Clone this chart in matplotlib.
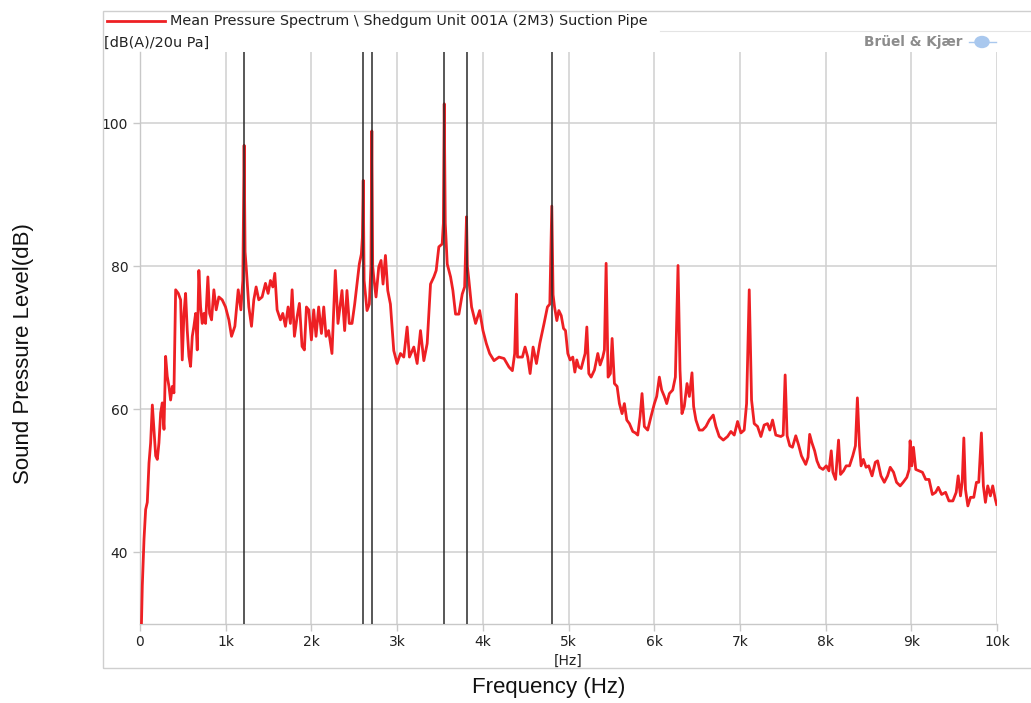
import matplotlib.pyplot as plt
import numpy as np
from matplotlib.lines import Line2D
from matplotlib.patches import Rectangle, Ellipse

# --- Spectrum read from the analyser export (Hz, dB(A) re 20 uPa) ---
freq_hz = [
    15, 27, 47, 66, 85, 105, 124, 144, 163, 183, 202, 221, 241, 260, 280, 299,
    318, 338, 357, 377, 396, 416, 447, 474, 493, 513, 532, 551, 571, 590, 610,
    629, 649, 668, 687, 707, 726, 746, 765, 792, 812, 835, 862, 889, 920, 959,
    998, 1037, 1068, 1107, 1146, 1177, 1200, 1215, 1226, 1239, 1270, 1301, 1328,
    1355, 1386, 1425, 1464, 1495, 1522, 1550, 1573, 1600, 1639, 1666, 1697, 1728,
    1755, 1775, 1802, 1833, 1860, 1891, 1918, 1942, 1969, 2000, 2027, 2054, 2085,
    2117, 2144, 2171,
    2201, 2240, 2279, 2310, 2357, 2388, 2415, 2442, 2474, 2505, 2532, 2559, 2583,
    2595, 2605, 2615, 2649, 2676, 2695, 2705, 2715, 2727, 2754, 2786, 2813, 2836,
    2864, 2891, 2922, 2961, 3000, 3039, 3078, 3117, 3144, 3195, 3234, 3273, 3312,
    3351, 3390, 3429, 3456, 3487, 3526, 3540, 3550, 3562, 3585, 3624, 3651, 3682,
    3721, 3760, 3788, 3810, 3820, 3838, 3869, 3916, 3963, 4002, 4041, 4080, 4131,
    4189, 4248, 4306, 4345, 4372, 4392, 4405, 4462, 4493, 4524, 4552, 4587, 4626,
    4665, 4715, 4754, 4782, 4805, 4820,
    4837, 4864, 4887, 4915, 4942, 4965, 4992, 5019, 5050, 5074, 5097, 5120, 5148,
    5175, 5194, 5214, 5237, 5264, 5303, 5342, 5369, 5400, 5419, 5439, 5462, 5489,
    5509, 5536, 5567, 5594, 5625, 5652, 5680, 5711, 5750, 5781, 5808, 5835, 5858,
    5885, 5924, 5963, 6002, 6029, 6060, 6087, 6118, 6146, 6177, 6216, 6247, 6278,
    6301, 6324, 6351, 6383, 6410, 6441, 6460, 6487, 6526, 6565, 6604, 6643, 6689,
    6720, 6759, 6806, 6856, 6895, 6934, 6973, 7012, 7050, 7078, 7109, 7136, 7167,
    7206, 7245, 7283, 7322, 7349, 7381, 7419, 7478, 7505, 7528,
    7551, 7582, 7613, 7652, 7683, 7718, 7768, 7795, 7814, 7841, 7872, 7899, 7930,
    7969, 8008, 8039, 8066, 8085, 8116, 8151, 8174, 8209, 8240, 8279, 8317, 8348,
    8371, 8395, 8414, 8441, 8472, 8503, 8542, 8580, 8607, 8646, 8685, 8723, 8754,
    8793, 8828, 8870, 8905, 8948, 8975, 8986, 9006, 9025, 9052, 9091, 9130, 9168,
    9207, 9246, 9284, 9315, 9354, 9400, 9439, 9485, 9524, 9547, 9574, 9594, 9613,
    9632, 9660, 9691, 9729, 9760, 9787, 9818, 9841, 9865, 9892, 9923, 9950, 9981,
    9996,
]
level_db = [
    29.0, 35.4, 41.9, 46.0, 47.0, 52.5, 55.3, 60.6, 57.2, 53.5, 53.0, 55.3, 59.5,
    60.9, 57.2, 67.4, 64.6, 63.2, 61.3, 63.2, 62.3, 76.7, 76.2, 75.3, 66.9, 73.4,
    76.2, 71.1, 67.4, 66.0, 70.2, 71.6, 73.4, 68.3, 79.4, 74.3, 72.0, 73.4, 72.0,
    78.5, 73.4, 72.5, 76.7, 73.9, 75.7, 75.3, 74.3, 72.5, 70.2, 71.6, 76.7, 73.9,
    78.0, 96.9, 82.0, 79.9, 74.3, 71.6, 75.3, 77.1, 75.3, 75.7, 77.6, 76.2, 78.0,
    77.1, 79.0, 73.9, 72.5, 73.4, 71.6, 74.3, 72.0, 76.7, 70.2, 72.9, 74.8, 68.8,
    68.3, 74.3, 73.9, 69.7, 73.9, 70.2, 74.3, 70.6, 74.3, 70.2,
    71.0, 67.8, 79.4, 72.0, 76.6, 71.0, 76.6, 72.0, 72.0, 74.7, 77.5, 80.3, 81.7,
    84.0, 92.0, 78.0, 73.8, 74.7, 80.0, 98.9, 80.0, 78.5, 75.7, 79.9, 80.8, 77.5,
    81.5, 76.6, 74.7, 68.2, 66.4, 67.8, 67.3, 71.5, 67.3, 68.7, 66.4, 71.0, 66.8,
    69.2, 77.5, 78.5, 79.4, 82.7, 83.1, 86.0, 102.7, 86.0, 80.3, 78.5, 76.6, 73.3,
    73.3, 76.1, 77.1, 86.9, 80.0, 78.0, 74.3, 72.0, 73.8, 71.0, 69.2, 67.8, 66.8,
    67.3, 67.1, 65.9, 65.4, 67.8, 76.1, 67.3, 67.3, 68.7, 67.3, 65.0, 68.7, 66.4,
    69.2, 72.0, 74.3, 74.7, 88.4, 76.0,
    74.3, 72.4, 73.8, 73.1, 71.3, 71.0, 67.8, 66.9, 67.3, 65.2, 66.9, 65.9, 65.7,
    66.9, 67.8, 71.5, 65.0, 64.5, 65.5, 67.8, 66.2, 67.3, 68.3, 80.4, 64.5, 65.0,
    69.9, 63.6, 63.2, 60.8, 59.4, 60.8, 58.5, 58.0, 56.9, 56.7, 56.4, 59.0, 62.2,
    57.6, 57.1, 59.0, 60.8, 61.8, 64.5, 62.7, 61.8, 60.8, 62.2, 62.7, 64.5, 80.1,
    65.5, 59.4, 60.4, 63.6, 61.8, 65.1, 60.4, 58.5, 57.1, 57.1, 57.6, 58.5, 59.2,
    57.6, 56.2, 55.7, 56.2, 56.9, 56.4, 58.3, 56.7, 57.1, 60.8, 76.7, 61.3, 58.0,
    57.6, 56.2, 57.8, 58.0, 57.1, 58.5, 56.4, 56.2, 56.4, 64.8,
    56.3, 54.9, 54.7, 56.3, 55.1, 53.5, 52.3, 53.3, 56.5, 55.3, 54.2, 52.8, 51.9,
    51.6, 52.1, 51.4, 54.2, 51.2, 50.2, 55.7, 50.9, 51.4, 52.1, 52.1, 53.5, 54.9,
    61.6, 54.9, 52.1, 53.0, 51.9, 52.1, 50.7, 52.6, 52.8, 50.7, 49.8, 50.7, 51.9,
    51.2, 49.8, 49.3, 49.8, 50.5, 51.6, 55.6, 52.1, 54.7, 51.6, 51.4, 51.2, 50.2,
    50.2, 48.1, 48.4, 49.1, 48.1, 48.4, 47.2, 47.2, 48.4, 50.7, 47.9, 49.8, 56.0,
    48.8, 46.5, 47.7, 47.7, 49.8, 49.8, 56.7, 49.3, 47.0, 49.3, 47.9, 49.3, 47.4,
    46.7,
]

# harmonic cursors placed in the analyser
cursor_hz = [1215, 2605, 2705, 3550, 3810, 4805]

x_ticks = [0, 1000, 2000, 3000, 4000, 5000, 6000, 7000, 8000, 9000, 10000]
x_tick_labels = ['0', '1k', '2k', '3k', '4k', '5k', '6k', '7k', '8k', '9k', '10k']
y_ticks = [40, 60, 80, 100]

W, H = 1031, 703
fig = plt.figure(figsize=(W / 100, H / 100), dpi=100)
fig.patch.set_facecolor('white')


def fx(px):
    return px / W


def fy(py):
    return 1 - py / H


ax = fig.add_axes([fx(140), fy(624), fx(997) - fx(140), fy(51.5) - fy(624)])

# outer panel frame + legend strip
fig.add_artist(Rectangle((fx(103), fy(668)), fx(W + 5) - fx(103), fy(10.5) - fy(668),
                         transform=fig.transFigure, fill=False, ec='#cfcfcf', lw=1.0))
fig.add_artist(Line2D([fx(660), fx(W)], [fy(31), fy(31)], transform=fig.transFigure,
                      color='#e4e4e4', lw=0.8))
fig.add_artist(Line2D([fx(107), fx(165)], [fy(21), fy(21)], transform=fig.transFigure,
                      color='#ee2024', lw=2.0))
fig.text(fx(170), fy(21), r'Mean Pressure Spectrum \ Shedgum Unit 001A (2M3) Suction Pipe',
         fontsize=10.4, family='DejaVu Sans', va='center', ha='left', color='#222222')
fig.text(fx(104), fy(43), '[dB(A)/20u Pa]', fontsize=10.4, family='DejaVu Sans',
         va='center', ha='left', color='#222222')

# vendor mark
fig.text(fx(864), fy(42), 'Brüel & Kjær', fontsize=9.8, fontweight='bold',
         family='DejaVu Sans', va='center', ha='left', color='#8c8c8c')
fig.add_artist(Ellipse((fx(982), fy(42)), fx(14), fy(0) - fy(11), transform=fig.transFigure,
                       color='#a9c8ee'))
fig.add_artist(Line2D([fx(969), fx(996)], [fy(42), fy(42)], transform=fig.transFigure,
                      color='#a9c8ee', lw=1.0))

ax.plot(freq_hz, level_db, color='#ee2024', lw=2.0, zorder=3)
for f in cursor_hz:
    ax.axvline(f, color='#2a2a2a', lw=1.1, zorder=4)

ax.set_xlim(0, 10000)
ax.set_ylim(30, 110)
ax.set_xticks(x_ticks)
ax.set_xticklabels(x_tick_labels)
ax.set_yticks(y_ticks)
ax.grid(True, color='#d0d0d0', lw=1.1, zorder=0)
ax.set_axisbelow(True)

for side in ['top', 'right']:
    ax.spines[side].set_visible(False)
for side in ['left', 'bottom']:
    ax.spines[side].set_color('#c8c8c8')
    ax.spines[side].set_linewidth(1.0)

ax.tick_params(axis='both', colors='#c8c8c8', length=5, width=1.0,
               labelcolor='#222222', labelsize=10)
ax.tick_params(axis='x', pad=3)
for lab in ax.get_xticklabels() + ax.get_yticklabels():
    lab.set_family('DejaVu Sans')

fig.text(fx(568), fy(661), '[Hz]', fontsize=10, family='DejaVu Sans',
         va='center', ha='center', color='#222222')
fig.text(fx(549), fy(688), 'Frequency (Hz)', fontsize=16, family='Liberation Sans',
         va='center', ha='center', color='#111111')
fig.text(fx(24), fy(354), 'Sound Pressure Level(dB)', fontsize=16, family='Liberation Sans',
         va='center', ha='center', rotation=90, color='#111111')

plt.savefig('out.png', dpi=100, facecolor='white')
